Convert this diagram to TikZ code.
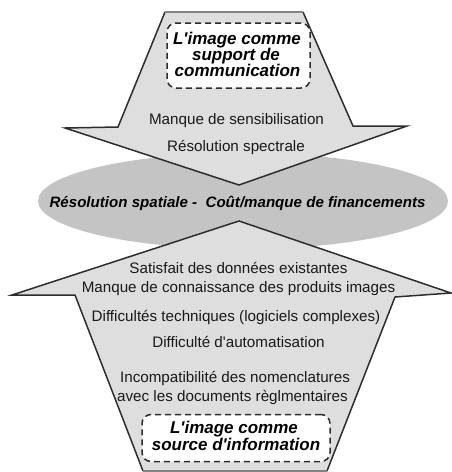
\documentclass[tikz,border=0pt]{standalone}
\usepackage{fontspec}
\setmainfont{Liberation Sans}
\usetikzlibrary{shapes.geometric}
\definecolor{arrowfill}{RGB}{222,222,222}
\definecolor{ellfill}{RGB}{196,196,196}
\definecolor{edgecol}{RGB}{45,45,45}
\definecolor{lightedge}{RGB}{130,130,130}
\newcommand{\apo}{\textquotesingle}
\begin{document}
\begin{tikzpicture}[x=1pt,y=-1pt,
  plaintxt/.style={font=\fontsize{15.2}{17}\selectfont, text=black!90, anchor=base, inner sep=0pt},
  boxtxt/.style={font=\fontsize{17}{17}\selectfont\bfseries\itshape, text=black, anchor=base, inner sep=0pt},
  elltxt/.style={font=\fontsize{15.1}{17}\selectfont\bfseries\itshape, text=black, anchor=base, inner sep=0pt},
  dashbox/.style={draw=edgecol, line width=1.5pt, dash pattern=on 6pt off 4pt, rounded corners=9pt, fill=white, inner sep=0pt},
  arrowbody/.style={fill=arrowfill},
  arrowline/.style={draw=edgecol, line width=1.5pt, line join=miter},
  arrowtop/.style={draw=lightedge, line width=1.2pt}
]
\useasboundingbox (0,0) rectangle (452,472);

% central ellipse
\node[ellipse, fill=ellfill, minimum width=410pt, minimum height=96pt, inner sep=0pt] (ell) at (243,201) {};

% top arrow (pointing down)
\coordinate (tA) at (165,12);
\coordinate (tB) at (303,12);
\coordinate (tC) at (353,126);
\coordinate (tD) at (407,126);
\coordinate (tE) at (239,185);
\coordinate (tF) at (65,128);
\coordinate (tG) at (118,127);
\fill[arrowbody] (tA) -- (tB) -- (tC) -- (tD) -- (tE) -- (tF) -- (tG) -- cycle;
\draw[arrowline] (tB) -- (tC) -- (tD) -- (tE) -- (tF) -- (tG) -- (tA);
\draw[arrowtop] (tA) -- (tB);

% bottom arrow (pointing up)
\coordinate (bA) at (239,221);
\coordinate (bB) at (451,293);
\coordinate (bC) at (395,297);
\coordinate (bD) at (327,471);
\coordinate (bE) at (143,471);
\coordinate (bF) at (75,295);
\coordinate (bG) at (12,295);
\fill[arrowbody] (bA) -- (bB) -- (bC) -- (bD) -- (bE) -- (bF) -- (bG) -- cycle;
\draw[arrowline] (bD) -- (bC) -- (bB) -- (bA) -- (bG) -- (bF) -- (bE);
\draw[arrowtop] (bE) -- (bD);

% dashed boxes
\node[dashbox, minimum width=143pt, minimum height=65pt] (topbox) at (238.5,55.5) {};
\node[boxtxt] (top1) at (237,44) {L\apo image comme};
\node[boxtxt] (top2) at (236,60) {support de};
\node[boxtxt] (top3) at (237.5,76) {communication};

\node[dashbox, minimum width=188pt, minimum height=47pt] (botbox) at (236,438) {};
\node[boxtxt] (bot1) at (234,433) {L\apo image comme};
\node[boxtxt] (bot2) at (236,450) {source d\apo information};

% top arrow texts
\node[plaintxt] (u1) at (236.5,124) {Manque de sensibilisation};
\node[plaintxt] (u2) at (236,151) {Résolution spectrale};

% ellipse text
\node[elltxt] (e1) at (237.5,207) {Résolution spatiale -\ \ Coût/manque de financements};

% bottom arrow texts
\node[plaintxt] (d1) at (238.5,273) {Satisfait des données existantes};
\node[plaintxt] (d2) at (238.5,292) {Manque de connaissance des produits images};
\node[plaintxt] (d3) at (236,321) {Difficultés techniques (logiciels complexes)};
\node[plaintxt] (d4) at (238.5,347) {Difficulté d\apo automatisation};
\node[plaintxt] (d5) at (235,382) {Incompatibilité des nomenclatures};
\node[plaintxt] (d6) at (232.5,401) {avec les documents règlmentaires};
\end{tikzpicture}
\end{document}
